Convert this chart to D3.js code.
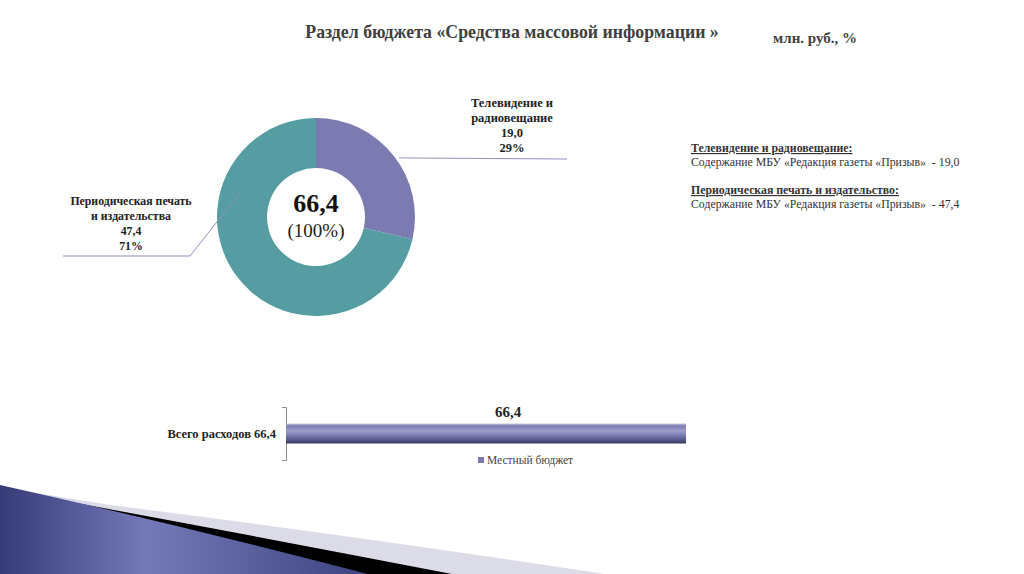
<!DOCTYPE html>
<html>
<head>
<meta charset="utf-8">
<script src="https://cdn.jsdelivr.net/npm/d3@7"></script>
<style>
  body { margin: 0; background: #fff; }
  svg { display: block; font-family: "Liberation Serif", "DejaVu Serif", serif; }
</style>
</head>
<body>
<svg width="1024" height="574"></svg>
<script>
// donut data
const categories = ['Телевидение и радиовещание', 'Периодическая печать и издательства'];
const labelLines = [['Телевидение и', 'радиовещание'], ['Периодическая печать', 'и издательства']];
const values = [19.0, 47.4];
const shares = ['29%', '71%'];
const sliceColors = ['#7b7bb1', '#559da3'];
const totalLabel = '66,4';

// bar data
const barCategories = ['Всего расходов 66,4'];
const barValues = [66.4];
const barSeries = ['Местный бюджет'];

// notes on the right
const notes = [
    { head: 'Телевидение и радиовещание:', text: 'Содержание МБУ «Редакция газеты «Призыв»  - 19,0' },
    { head: 'Периодическая печать и издательство:', text: 'Содержание МБУ «Редакция газеты «Призыв»  - 47,4' }
];

const fmt = v => d3.format('.1f')(v).replace('.', ',');

const svg = d3.select('svg');
const defs = svg.append('defs');

// decorative swoosh bottom left
const blueGrad = defs.append('linearGradient').attr('id', 'blueGrad')
    .attr('x1', 0).attr('y1', 0).attr('x2', 1).attr('y2', 0);
blueGrad.append('stop').attr('offset', '0%').attr('stop-color', '#363b78');
blueGrad.append('stop').attr('offset', '40%').attr('stop-color', '#7479b8');
blueGrad.append('stop').attr('offset', '100%').attr('stop-color', '#3d4280');

svg.append('path')
    .attr('d', 'M110,505 Q350,535 605,574 L0,574 L0,487 Z')
    .attr('fill', '#dcdce8');
svg.append('path')
    .attr('d', 'M60,500 Q250,535 452,574 L0,574 L0,487 Z')
    .attr('fill', '#000');
svg.append('path')
    .attr('d', 'M0,485 Q180,525 368,574 L0,574 Z')
    .attr('fill', 'url(#blueGrad)');

// title
svg.append('text')
    .attr('x', 512).attr('y', 38)
    .attr('text-anchor', 'middle')
    .attr('font-size', 17.8).attr('font-weight', 'bold').attr('fill', '#404040')
    .text('Раздел бюджета «Средства массовой информации »');
svg.append('text')
    .attr('x', 773).attr('y', 43)
    .attr('font-size', 15).attr('font-weight', 'bold').attr('fill', '#404040')
    .text('млн. руб., %');

// donut
const cx = 316, cy = 217, outerR = 99, innerR = 49;
const pie = d3.pie().sort(null).value(d => d)(values);
const arc = d3.arc().innerRadius(innerR).outerRadius(outerR);

const donut = svg.append('g').attr('transform', `translate(${cx},${cy})`);
donut.selectAll('path.slice')
    .data(pie)
    .join('path')
    .attr('class', 'slice')
    .attr('d', arc)
    .attr('fill', (d, i) => sliceColors[i]);

donut.append('text')
    .attr('y', -5).attr('text-anchor', 'middle')
    .attr('font-size', 26).attr('font-weight', 'bold').attr('fill', '#111')
    .text(totalLabel);
donut.append('text')
    .attr('y', 20).attr('text-anchor', 'middle')
    .attr('font-size', 19).attr('fill', '#222')
    .text('(100%)');

// leader lines and labels
const polar = (a, r) => [cx + r * Math.sin(a), cy - r * Math.cos(a)];
const leaders = [
    { pts: [polar(pie[0].startAngle + (pie[0].endAngle - pie[0].startAngle) * 0.53, 102), [567, 159]], lx: 512, ly: 107 },
    { pts: [polar(pie[1].endAngle - 1.27, 80), [190, 256], [63, 256]], lx: 131, ly: 205 }
];
svg.selectAll('path.leader')
    .data(leaders)
    .join('path')
    .attr('class', 'leader')
    .attr('d', d => d3.line()(d.pts))
    .attr('fill', 'none').attr('stroke', '#8e8ec0').attr('stroke-width', 1);

leaders.forEach((l, i) => {
    const t = svg.append('text')
        .attr('text-anchor', 'middle')
        .attr('font-size', i === 0 ? 12.5 : 11.8).attr('font-weight', 'bold').attr('fill', '#222');
    const lines = labelLines[i].concat([fmt(values[i]), shares[i]]);
    lines.forEach((s, j) => {
        t.append('tspan').attr('x', l.lx).attr('y', l.ly + j * 15).text(s);
    });
});

// right notes
notes.forEach((n, i) => {
    const y0 = 152 + i * 42;
    svg.append('text')
        .attr('x', 691).attr('y', y0)
        .attr('font-size', 11.8).attr('font-weight', 'bold').attr('fill', '#333')
        .attr('text-decoration', 'underline')
        .text(n.head);
    svg.append('text')
        .attr('x', 691).attr('y', y0 + 14)
        .attr('font-size', 11.8).attr('fill', '#333')
        .attr('xml:space', 'preserve')
        .style('white-space', 'pre')
        .text(n.text);
});

// bar chart
const x = d3.scaleLinear().domain([0, d3.max(barValues)]).range([286, 686]);
const y = d3.scaleBand().domain(barCategories).range([407, 460]).paddingInner(0).paddingOuter(0.825);

const barGrad = defs.append('linearGradient').attr('id', 'barGrad')
    .attr('x1', 0).attr('y1', 0).attr('x2', 0).attr('y2', 1);
barGrad.append('stop').attr('offset', '0%').attr('stop-color', '#c8c8e0');
barGrad.append('stop').attr('offset', '12%').attr('stop-color', '#7c7cb4');
barGrad.append('stop').attr('offset', '38%').attr('stop-color', '#9e9ed0');
barGrad.append('stop').attr('offset', '70%').attr('stop-color', '#6a6aa2');
barGrad.append('stop').attr('offset', '100%').attr('stop-color', '#3a3a62');

svg.append('g')
    .attr('transform', 'translate(286,0)')
    .call(d3.axisLeft(y).tickSize(0).tickFormat(''))
    .call(g => g.select('.domain').attr('stroke', '#888').attr('d', 'M-4,407.5H0.5V460.5H-4'));

svg.selectAll('rect.bar')
    .data(barValues)
    .join('rect')
    .attr('class', 'bar')
    .attr('x', x(0))
    .attr('y', (d, i) => y(barCategories[i]))
    .attr('width', d => x(d) - x(0))
    .attr('height', y.bandwidth())
    .attr('fill', 'url(#barGrad)');

svg.selectAll('text.barval')
    .data(barValues)
    .join('text')
    .attr('class', 'barval')
    .attr('x', d => (x(0) + x(d)) / 2 + 22)
    .attr('y', (d, i) => y(barCategories[i]) - 7)
    .attr('text-anchor', 'middle')
    .attr('font-size', 15).attr('font-weight', 'bold').attr('fill', '#222')
    .text(d => fmt(d));

svg.selectAll('text.barcat')
    .data(barCategories)
    .join('text')
    .attr('class', 'barcat')
    .attr('x', 276)
    .attr('y', d => y(d) + y.bandwidth() / 2 + 4)
    .attr('text-anchor', 'end')
    .attr('font-size', 12.5).attr('font-weight', 'bold').attr('fill', '#222')
    .text(d => d);

// legend
const legend = svg.append('g').attr('transform', 'translate(478,464)');
legend.append('rect').attr('x', 0).attr('y', -7).attr('width', 6).attr('height', 6).attr('fill', '#7b7bb1');
legend.append('text').attr('x', 9).attr('y', 0)
    .attr('font-size', 11.5).attr('fill', '#444')
    .text(barSeries[0]);
</script>
</body>
</html>
